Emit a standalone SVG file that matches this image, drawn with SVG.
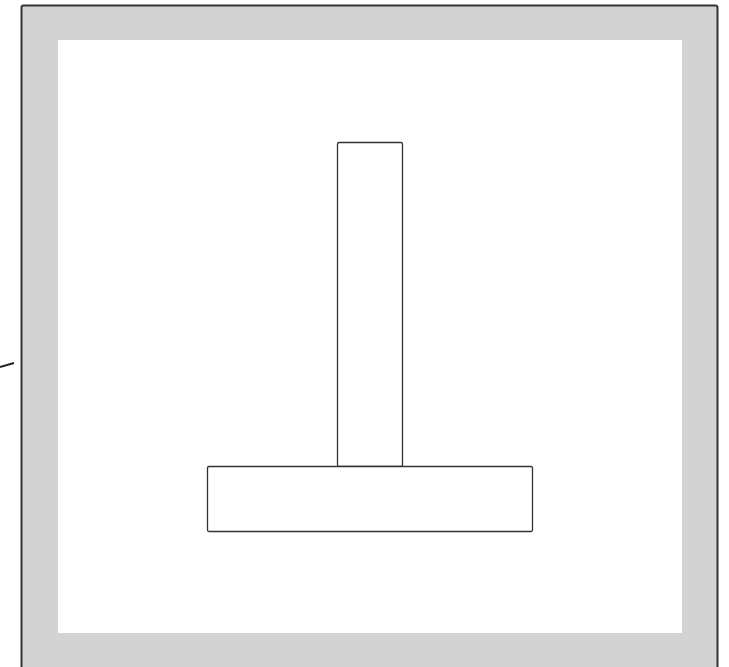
<svg xmlns="http://www.w3.org/2000/svg" width="729" height="667" viewBox="0 0 729 667">
<style>
.box{fill:#ffffff;stroke:#333333;stroke-width:1.3}
</style>
<rect width="729" height="667" fill="#ffffff"/>
<g id="frame">
<rect x="21.5" y="5.5" width="696" height="670" rx="2" fill="#d3d3d3" stroke="#333333" stroke-width="2"/>
<rect x="58" y="40" width="624" height="593" fill="#ffffff"/>
</g>
<g id="connectors">
<line x1="0" y1="367" x2="14" y2="363" stroke="#222222" stroke-width="2"/>
</g>
<g id="stem">
<rect class="box" x="337.5" y="142.5" width="65" height="324" rx="1.5"/>
</g>
<g id="base">
<rect class="box" x="207.5" y="466.5" width="325" height="65" rx="1.5"/>
</g>
</svg>
